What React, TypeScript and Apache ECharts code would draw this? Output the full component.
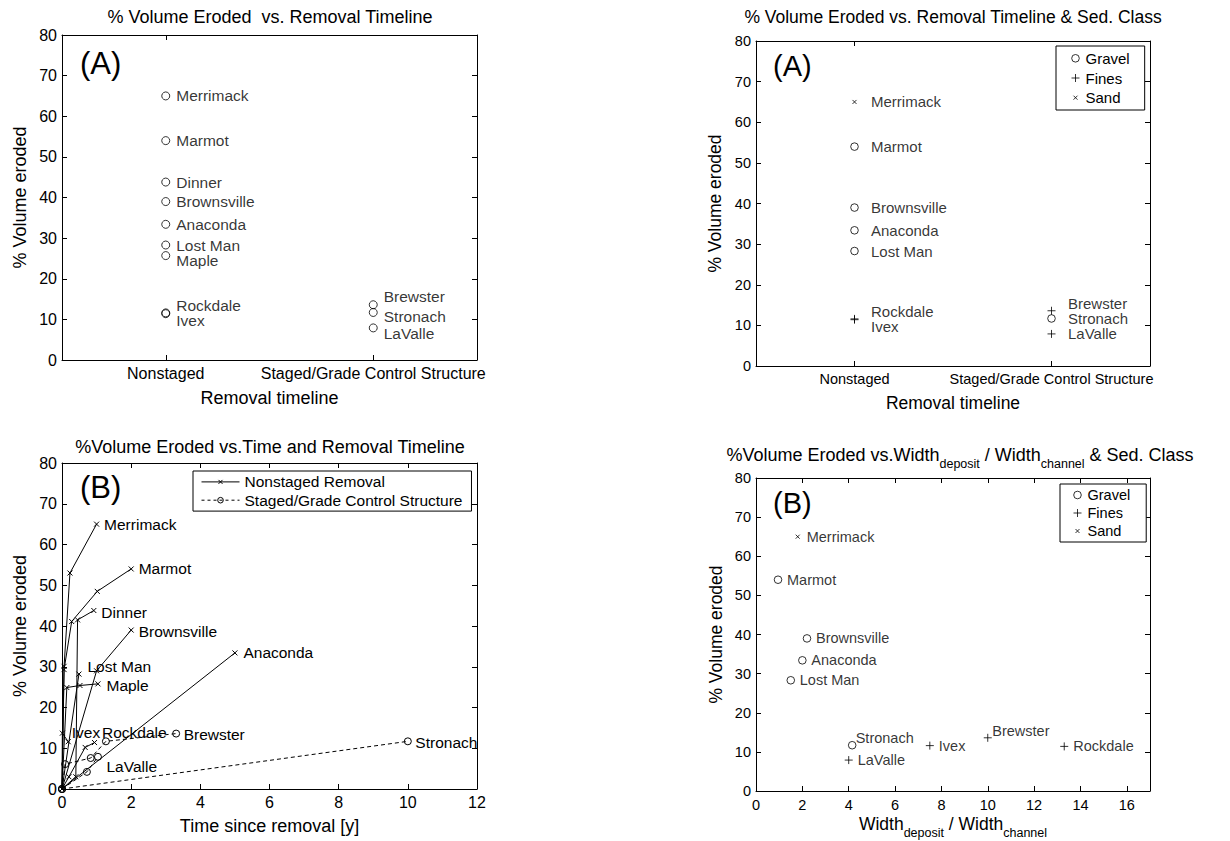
import React, { useEffect, useRef } from 'react';
import * as echarts from 'echarts';

const FONT = '"Liberation Sans", Arial, Helvetica, sans-serif';

// ---------- shared site data ----------
const sites = ['Merrimack', 'Marmot', 'Dinner', 'Brownsville', 'Anaconda', 'Lost Man', 'Maple', 'Rockdale', 'Ivex', 'Brewster', 'Stronach', 'LaValle'];
const volumeEroded = [65, 54, 43.8, 39, 33.4, 28.3, 25.7, 11.4, 11.6, 13.6, 11.7, 7.9];
const timelineCategories = ['Nonstaged', 'Staged/Grade Control Structure'];
const siteTimeline = [0, 0, 0, 0, 0, 0, 0, 0, 0, 1, 1, 1];
const sedClassNames = ['Gravel', 'Fines', 'Sand'];
const siteSedClass = ['Sand', 'Gravel', null, 'Gravel', 'Gravel', 'Gravel', null, 'Fines', 'Fines', 'Fines', 'Gravel', 'Fines'];
const widthRatio = [1.8, 0.95, null, 2.2, 2.0, 1.5, null, 13.3, 7.5, 10.0, 4.15, 4.0];

// ---------- time since removal series (years, % eroded) ----------
const tMerrimack = [0, 0.06, 0.23, 1.0];
const vMerrimack = [0, 30.1, 53, 65];
const tMarmot = [0, 0.06, 0.28, 1.02, 2.0];
const vMarmot = [0, 29.3, 41.1, 48.5, 54];
const tDinner = [0, 0.4, 0.45, 0.92];
const vDinner = [0, 3, 41.5, 43.8];
const tBrownsville = [0, 1.0, 2.0];
const vBrownsville = [0, 29, 39];
const tAnaconda = [0, 5.0];
const vAnaconda = [0, 33.4];
const tLostMan = [0, 0.49];
const vLostMan = [0, 28.2];
const tMaple = [0, 0.14, 0.52, 1.04];
const vMaple = [0, 24.9, 25.4, 25.8];
const tRockdale = [0, 0.2, 0.67, 0.94];
const vRockdale = [0, 3, 10.2, 11.4];
const tIvex = [0, 0.01, 0.18];
const vIvex = [0, 13.7, 11.6];
const tBrewster = [0, 0.09, 0.83, 1.27, 3.3];
const vBrewster = [0, 6.1, 7.6, 11.7, 13.6];
const tStronach = [0, 10];
const vStronach = [0, 11.7];
const tLaValle = [0, 0.72, 1.04];
const vLaValle = [0, 4.2, 7.9];

const nonstagedRuns: [string, number[], number[]][] = [
  ['Merrimack', tMerrimack, vMerrimack],
  ['Marmot', tMarmot, vMarmot],
  ['Dinner', tDinner, vDinner],
  ['Brownsville', tBrownsville, vBrownsville],
  ['Anaconda', tAnaconda, vAnaconda],
  ['Lost Man', tLostMan, vLostMan],
  ['Maple', tMaple, vMaple],
  ['Rockdale', tRockdale, vRockdale],
  ['Ivex', tIvex, vIvex],
];
const stagedRuns: [string, number[], number[]][] = [
  ['Brewster', tBrewster, vBrewster],
  ['Stronach', tStronach, vStronach],
  ['LaValle', tLaValle, vLaValle],
];

// ---------- label placement tweaks (px) ----------
const dyA1: Record<string, number> = { Rockdale: -8, Ivex: 8, Maple: 4.5, Brewster: -8, Stronach: 4, LaValle: 5.5 };
const dyA2: Record<string, number> = { Rockdale: -8, Ivex: 8, Brewster: -7.7 };
const nudgeB2: Record<string, [number, number]> = { Stronach: [-5.5, -7], Brewster: [-4.5, -7] };
const nudgeTime: Record<string, [number, number]> = {
  Merrimack: [7, 0], Marmot: [7, 0], Dinner: [7, 2], Brownsville: [7, 1], Anaconda: [8, 0],
  'Lost Man': [8, -8], Maple: [8, 1.5], Ivex: [3, -9], Rockdale: [7, -10.5],
  Brewster: [7, 1], Stronach: [7, 1], LaValle: [8, 9.5],
};

// ---------- symbols ----------
const SYM_CIRCLE = 'path://M0 0M10 10M8.8 5A3.8 3.8 0 1 1 1.2 5A3.8 3.8 0 1 1 8.8 5Z';
const SYM_PLUS = 'path://M0 0M10 10M5 1L5 9M1 5L9 5';
const SYM_SAND = 'path://M0 0M10 10M3 3L7 7M7 3L3 7';
const SYM_X = 'path://M0 0M10 10M2.5 2.5L7.5 7.5M7.5 2.5L2.5 7.5';
const SYM_SMALL_CIRCLE = 'path://M0 0M10 10M8.5 5A3.5 3.5 0 1 1 1.5 5A3.5 3.5 0 1 1 8.5 5Z';
const classSymbol: Record<string, string> = { Gravel: SYM_CIRCLE, Fines: SYM_PLUS, Sand: SYM_SAND };

const strokeItem = { color: 'transparent', borderColor: '#000', borderWidth: 1 };

function buildOption(): any {
  const tick = { show: true, inside: true, length: 5, lineStyle: { color: '#000', width: 1 } };
  const axLine = { show: true, onZero: false, lineStyle: { color: '#000', width: 1 } };
  const lbl = (fs: number) => ({ color: '#000', fontSize: fs, fontFamily: FONT, margin: 5 });
  const nameStyle = (fs: number) => ({ color: '#000', fontSize: fs, fontFamily: FONT });

  const yPair = (g: number, fs: number, nfs: number, gap: number) => [
    {
      type: 'value', gridIndex: g, position: 'left', min: 0, max: 80, interval: 10,
      axisLine: axLine, axisTick: tick, splitLine: { show: false }, axisLabel: lbl(fs),
      name: '% Volume eroded', nameLocation: 'middle', nameGap: gap, nameTextStyle: nameStyle(nfs),
    },
    {
      type: 'value', gridIndex: g, position: 'right', min: 0, max: 80, interval: 10,
      axisLine: axLine, axisTick: tick, splitLine: { show: false }, axisLabel: { show: false },
    },
  ];

  const catPair = (g: number, fs: number, nfs: number, gap: number) => [
    {
      type: 'category', gridIndex: g, position: 'bottom', data: timelineCategories, boundaryGap: true,
      axisLine: axLine, axisTick: { ...tick, alignWithLabel: true }, axisLabel: { ...lbl(fs), interval: 0 },
      splitLine: { show: false },
      name: 'Removal timeline', nameLocation: 'middle', nameGap: gap, nameTextStyle: nameStyle(nfs),
    },
    {
      type: 'category', gridIndex: g, position: 'top', data: timelineCategories, boundaryGap: true,
      axisLine: axLine, axisTick: { ...tick, alignWithLabel: true }, axisLabel: { show: false },
      splitLine: { show: false },
    },
  ];

  const subRich = (mfs: number, sfs: number) => ({
    m: { fontSize: mfs, fontFamily: FONT, color: '#000', verticalAlign: 'top', lineHeight: 20 },
    s: { fontSize: sfs, fontFamily: FONT, color: '#000', verticalAlign: 'top', lineHeight: 14, padding: [11, 0, 0, 0] },
  });

  const xAxis = [
    ...catPair(0, 16, 18, 29),
    {
      type: 'value', gridIndex: 1, position: 'bottom', min: 0, max: 12, interval: 2,
      axisLine: axLine, axisTick: tick, splitLine: { show: false }, axisLabel: lbl(16),
      name: 'Time since removal [y]', nameLocation: 'middle', nameGap: 28, nameTextStyle: nameStyle(18),
    },
    {
      type: 'value', gridIndex: 1, position: 'top', min: 0, max: 12, interval: 2,
      axisLine: axLine, axisTick: tick, splitLine: { show: false }, axisLabel: { show: false },
    },
    ...catPair(2, 14.5, 17.5, 28),
    {
      type: 'value', gridIndex: 3, position: 'bottom', min: 0, max: 17, interval: 2,
      axisLine: axLine, axisTick: tick, splitLine: { show: false },
      axisLabel: { ...lbl(14.5), margin: 6, showMaxLabel: false },
      name: '{m|Width}{s|deposit}{m| / Width}{s|channel}', nameLocation: 'middle', nameGap: 24,
      nameTextStyle: { ...nameStyle(17.5), rich: subRich(17.5, 12.5) },
    },
    {
      type: 'value', gridIndex: 3, position: 'top', min: 0, max: 17, interval: 2,
      axisLine: axLine, axisTick: tick, splitLine: { show: false }, axisLabel: { show: false },
    },
  ];

  const yAxis = [...yPair(0, 16, 18, 33), ...yPair(1, 16, 18, 33), ...yPair(2, 14.5, 17.5, 32), ...yPair(3, 14.5, 17.5, 31)];

  const series: any[] = [];

  // Panel top-left
  series.push({
    type: 'scatter', name: 'sites', xAxisIndex: 0, yAxisIndex: 0, silent: true,
    symbol: 'circle', symbolSize: 8, itemStyle: strokeItem,
    label: { show: true, position: 'right', distance: 6, formatter: '{b}', color: '#000', fontSize: 15.5, lineHeight: 15, fontFamily: FONT },
    data: sites.map((s, i) => ({ name: s, value: [siteTimeline[i], volumeEroded[i]], label: { offset: [0, dyA1[s] ?? 0] } })),
  });

  // Panel bottom-left: time series
  const lineSeries = (runs: [string, number[], number[]][], name: string, dashed: boolean, sym: string) => {
    runs.forEach(([site, ts, vs]) => {
      const nd = nudgeTime[site] ?? [7, 0];
      series.push({
        type: 'line', name, xAxisIndex: 2, yAxisIndex: 2, silent: true,
        symbol: sym, symbolSize: 10, showSymbol: true, showAllSymbol: true,
        lineStyle: { color: '#000', width: 1, type: dashed ? [4, 3] : 'solid' },
        itemStyle: strokeItem,
        data: ts.map((t, k) => {
          const item: any = { value: [t, vs[k]] };
          if (k === ts.length - 1) {
            item.label = {
              show: true, position: 'right', distance: nd[0] - 5, offset: [0, nd[1]],
              formatter: site, color: '#000', fontSize: 15.5, lineHeight: 15, fontFamily: FONT,
            };
          }
          return item;
        }),
      });
    });
  };
  lineSeries(nonstagedRuns, 'Nonstaged Removal', false, SYM_X);
  lineSeries(stagedRuns, 'Staged/Grade Control Structure', true, SYM_SMALL_CIRCLE);

  // Panels right: by sediment class
  sedClassNames.forEach((cls) => {
    const idx = sites.map((_, i) => i).filter((i) => siteSedClass[i] === cls);
    series.push({
      type: 'scatter', name: cls, xAxisIndex: 4, yAxisIndex: 4, silent: true,
      symbol: classSymbol[cls], symbolSize: 10, itemStyle: strokeItem,
      label: { show: true, position: 'right', distance: 11, formatter: '{b}', color: '#000', fontSize: 15, lineHeight: 14.5, fontFamily: FONT },
      data: idx.map((i) => ({ name: sites[i], value: [siteTimeline[i], volumeEroded[i]], label: { offset: [0, dyA2[sites[i]] ?? 0] } })),
    });
    series.push({
      type: 'scatter', name: cls, xAxisIndex: 6, yAxisIndex: 6, silent: true,
      symbol: classSymbol[cls], symbolSize: 10, itemStyle: strokeItem,
      label: { show: true, position: 'right', distance: 3.5, formatter: '{b}', color: '#000', fontSize: 14.5, lineHeight: 14.5, fontFamily: FONT },
      data: idx.map((i) => ({ name: sites[i], value: [widthRatio[i], volumeEroded[i]], label: { offset: nudgeB2[sites[i]] ?? [0, 0] } })),
    });
  });

  const legendCommon = {
    orient: 'vertical', borderColor: '#000', borderWidth: 1, backgroundColor: '#fff', borderRadius: 0,
    selectedMode: false, itemStyle: { color: 'transparent', borderColor: '#000', borderWidth: 1 },
  };

  const legend = [
    {
      ...legendCommon, left: 193, top: 471, itemWidth: 38, itemHeight: 10, itemGap: 1.3, padding: [2.4, 9, 2.4, 8],
      textStyle: { color: '#000', fontSize: 15.5, fontFamily: FONT, lineHeight: 17 },
      data: [
        { name: 'Nonstaged Removal', lineStyle: { color: '#000', width: 1, type: 'solid' } },
        { name: 'Staged/Grade Control Structure', lineStyle: { color: '#000', width: 1, type: [3, 3] } },
      ],
    },
    {
      ...legendCommon, left: 1056, top: 46, itemWidth: 10, itemHeight: 10, itemGap: 1.7, padding: [3.3, 15, 3.3, 14],
      textStyle: { color: '#000', fontSize: 15, fontFamily: FONT, lineHeight: 18 },
      data: sedClassNames,
    },
    {
      ...legendCommon, left: 1060, top: 484, itemWidth: 10, itemHeight: 10, itemGap: 1, padding: [2.5, 16, 2.5, 12],
      textStyle: { color: '#000', fontSize: 14.5, fontFamily: FONT, lineHeight: 17 },
      data: sedClassNames,
    },
  ];

  const txt = (text: string, x: number, y: number, fs: number, align = 'center', rich?: any) => ({
    type: 'text', x, y, silent: true,
    style: {
      text, fontSize: fs, fontFamily: FONT, fill: '#000',
      textAlign: align, textVerticalAlign: 'middle', align, verticalAlign: 'middle', rich,
    },
  });

  const graphic = {
    elements: [
      txt('% Volume Eroded  vs. Removal Timeline', 270, 17, 18),
      txt('%Volume Eroded vs.Time and Removal Timeline', 270, 447, 18),
      txt('% Volume Eroded vs. Removal Timeline & Sed. Class', 953, 17, 17.5),
      txt('{m|%Volume Eroded vs.Width}{s|deposit}{m| / Width}{s|channel}{m| & Sed. Class}', 960, 456, 18, 'center', subRich(18, 12.5)),
      txt('(A)', 80, 63, 31, 'left'),
      txt('(B)', 80, 487, 31, 'left'),
      txt('(A)', 773, 66, 29, 'left'),
      txt('(B)', 773, 503, 29, 'left'),
    ],
  };

  return {
    animation: false,
    backgroundColor: '#fff',
    textStyle: { fontFamily: FONT, color: '#000' },
    grid: [
      { left: 62, top: 35, width: 415, height: 325 },
      { left: 62, top: 463, width: 415, height: 326 },
      { left: 756, top: 41, width: 394, height: 325 },
      { left: 756, top: 478, width: 394, height: 313 },
    ],
    xAxis,
    yAxis,
    legend,
    series,
    graphic,
  };
}

export default function App() {
  const ref = useRef<HTMLDivElement>(null);
  useEffect(() => {
    if (!ref.current) return;
    const chart = echarts.init(ref.current, undefined, { renderer: 'svg' });
    chart.setOption(buildOption());
    return () => chart.dispose();
  }, []);
  return (
    <div
      ref={ref}
      style={{ position: 'fixed', left: 0, top: 0, width: 1230, height: 841, background: '#fff' }}
    />
  );
}
